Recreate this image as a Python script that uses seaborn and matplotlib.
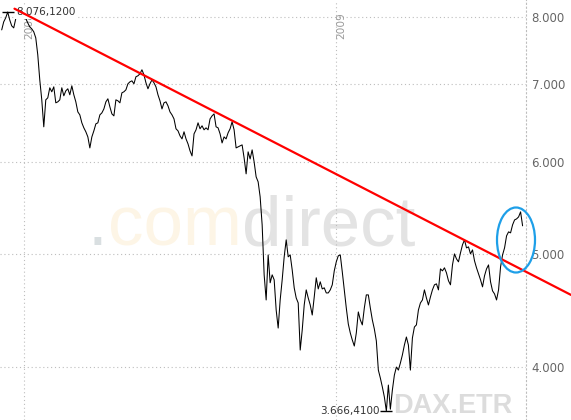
import matplotlib
matplotlib.use("Agg")
import numpy as np
import pandas as pd
import matplotlib.pyplot as plt
import matplotlib.transforms as mtransforms
from matplotlib.patches import Ellipse
from matplotlib.ticker import NullLocator
import seaborn as sns


dax_dec07_feb08 = [
    7796, 7921, 7984, 8076.12, 7952, 7858, 7827, 7968, 8048, 8032,
    8000, 7984, 7975, 7905, 7843, 7812, 7766, 7674, 7421, 7062,
    6788, 6435, 6788, 6815, 6952, 6897, 6965, 6748, 6761, 6788,
    6952, 6842, 6910, 6938, 6856, 6979, 6856, 6761, 6628, 6589,
]
dax_mar08_jun08 = [
    6486, 6422, 6372, 6308, 6172, 6308, 6384, 6473, 6486, 6589,
    6615, 6667, 6761, 6802, 6694, 6602, 6576, 6788, 6775, 6748,
    6883, 6897, 6924, 7007, 7034, 7048, 7007, 7105, 7119, 7147,
    7204, 7133, 7021, 6938, 7007, 7062, 7021, 6965, 6856, 6775,
]
dax_jul08_sep08 = [
    6667, 6748, 6761, 6708, 6628, 6589, 6537, 6410, 6384, 6321,
    6283, 6372, 6283, 6221, 6136, 6075, 6346, 6397, 6486, 6410,
    6448, 6397, 6422, 6397, 6537, 6576, 6602, 6435, 6422, 6346,
    6233, 6308, 6283, 6359, 6410, 6499, 6397, 6172, 6185, 6197,
]
dax_oct08_dec08 = [
    6209, 6051, 5863, 6124, 6039, 6148, 6003, 5828, 5771, 5602,
    5300, 4801, 4568, 4994, 4726, 4801, 4754, 4478, 4321, 4568,
    4754, 4975, 5145, 4975, 4994, 4848, 4679, 4586, 4541, 4137,
    4304, 4523, 4660, 4586, 4523, 4434, 4595, 4773, 4669, 4735,
]
dax_jan09_mar09 = [
    4669, 4679, 4632, 4632, 4660, 4707, 4839, 4926, 4985, 4994,
    4829, 4660, 4496, 4356, 4279, 4220, 4170, 4279, 4461, 4391,
    4348, 4496, 4614, 4614, 4496, 4391, 4313, 4212, 3976, 3914,
    3845, 3770, 3666.41, 3860, 3680, 3822, 3937, 4000, 3976, 4032,
]
dax_apr09_aug09 = [
    4097, 4178, 4245, 4178, 3976, 4237, 4330, 4348, 4478, 4541,
    4568, 4660, 4586, 4523, 4595, 4660, 4707, 4716, 4660, 4858,
    4839, 4868, 4820, 4745, 4707, 4896, 5004, 4955, 4926, 5014,
    5095, 5145, 5064, 5074, 5004, 5044, 4936, 4868, 4810, 4754,
    4688, 4792, 4858, 4896, 4735, 4651, 4623, 4568, 4660, 4877,
    4994, 5064, 5186, 5227, 5217, 5300, 5352, 5363, 5384, 5438,
    5290,
]

first_day = "2007-12-06"
last_day = "2009-08-08"

# Trendlinie (Widerstand) – Anfangs- und Endpunkt
trend_dates = ["2007-12-21", "2009-10-04"]
trend_values = [8130, 4613]

y_ticks = [4000, 5000, 6000, 7000, 8000]
year_marks = ["2008-01-01", "2009-01-01"]


def de_format(v, decimals=0):
    """Zahl im deutschen Format: 8.076,1200"""
    s = f"{v:,.{decimals}f}"
    return s.replace(",", "X").replace(".", ",").replace("X", ".")


values = (dax_dec07_feb08 + dax_mar08_jun08 + dax_jul08_sep08
          + dax_oct08_dec08 + dax_jan09_mar09 + dax_apr09_aug09)
dates = pd.date_range(first_day, last_day, periods=len(values))
df = pd.DataFrame({"date": dates, "dax": values})

# ── Plot ─────────────────────────────────────────────────────────────────────

sns.set_style("white")
plt.rcParams["font.family"] = ["DejaVu Sans"]

W, H = 571, 420
AX_W = 526
fig = plt.figure(figsize=(W / 100, H / 100), dpi=100)
ax = fig.add_axes([0, 0, AX_W / W, 1])

grid_kw = dict(color="#bdbdbd", lw=0.8, ls=(0, (1, 2.5)))

sns.lineplot(data=df, x="date", y="dax", ax=ax, color="black",
             lw=0.75, zorder=2)

ax.set_yscale("log")
ax.set_ylim(3602, 8271)
ax.set_xlim(pd.Timestamp("2007-12-04"), pd.Timestamp("2009-08-12"))

ax.set_yticks(y_ticks)
ax.set_yticklabels([de_format(v) for v in y_ticks])
ax.yaxis.set_minor_locator(NullLocator())
ax.yaxis.tick_right()
ax.tick_params(axis="y", length=0, pad=4, labelsize=8.5, labelcolor="#666666")

ax.set_xticks([pd.Timestamp(d) for d in year_marks])
ax.tick_params(axis="x", length=0, labelbottom=False)
ax.grid(True, **grid_kw)
ax.set_xlabel("")
ax.set_ylabel("")

for side in ["left", "top", "bottom"]:
    ax.spines[side].set_visible(False)
ax.spines["right"].set_color("#bdbdbd")
ax.spines["right"].set_linewidth(0.8)
ax.spines["right"].set_linestyle((0, (1, 2.5)))

# Jahreslabels an den Gitterlinien
blend = mtransforms.blended_transform_factory(ax.transData, ax.transAxes)
for d in year_marks:
    ax.text(pd.Timestamp(d) + pd.Timedelta(days=1), 1 - 12 / H, d[:4],
            transform=blend, rotation=90, ha="left", va="top",
            fontsize=7.6, color="#9a9a9a", zorder=1)

# Wasserzeichen
wm_y = 1 - 245 / H
t1 = ax.text(88 / AX_W, wm_y, ".", transform=ax.transAxes, family="Liberation Sans",
             fontsize=51, color="#d9dfe1", va="baseline", ha="left", zorder=0)
fig.canvas.draw()
r = fig.canvas.get_renderer()
x_next = ax.transAxes.inverted().transform(t1.get_window_extent(r))[1, 0]
t2 = ax.text(x_next, wm_y, "com", transform=ax.transAxes, family="Liberation Sans",
             fontsize=51, color="#fdf5e6", va="baseline", ha="left", zorder=0)
x_next = ax.transAxes.inverted().transform(t2.get_window_extent(r))[1, 0]
ax.text(x_next, wm_y, "direct", transform=ax.transAxes, family="Liberation Sans",
        fontsize=51, color="#e3e3e3", va="baseline", ha="left", zorder=0)
ax.text(393 / AX_W, 1 - 413 / H, "DAX.ETR", transform=ax.transAxes,
        family="Liberation Sans", fontweight="bold", fontsize=19.5,
        color="#dcdcdc", va="baseline", ha="left", zorder=0)

# Hoch / Tief markieren
i_max = df["dax"].idxmax()
i_min = df["dax"].idxmin()
for i in (i_max, i_min):
    ax.plot([df.loc[i, "date"]], [df.loc[i, "dax"]], marker="_", ms=8,
            mew=1, color="black", zorder=2)
ax.annotate(de_format(df.loc[i_max, "dax"], 4),
            xy=(df.loc[i_max, "date"], df.loc[i_max, "dax"]),
            xytext=(6.5, 0), textcoords="offset points", ha="left", va="center",
            fontsize=7.5, color="#333333", zorder=3,
            bbox=dict(fc="white", ec="none", pad=1.5))
ax.annotate(de_format(df.loc[i_min, "dax"], 4),
            xy=(df.loc[i_min, "date"], df.loc[i_min, "dax"]),
            xytext=(-5, 0), textcoords="offset points", ha="right", va="center",
            fontsize=7.5, color="#333333", zorder=3)

# Trendlinie
ax.plot(pd.to_datetime(trend_dates), trend_values, color="red", lw=1.6,
        clip_on=False, zorder=4)

# Markierung Ausbruch
ax.add_patch(Ellipse((516 / AX_W, 1 - 240 / H), 38 / AX_W, 65 / H,
                     transform=ax.transAxes, fill=False, ec="#1e9fe8",
                     lw=1.6, clip_on=False, zorder=5))

fig.savefig("out.png", dpi=100)
